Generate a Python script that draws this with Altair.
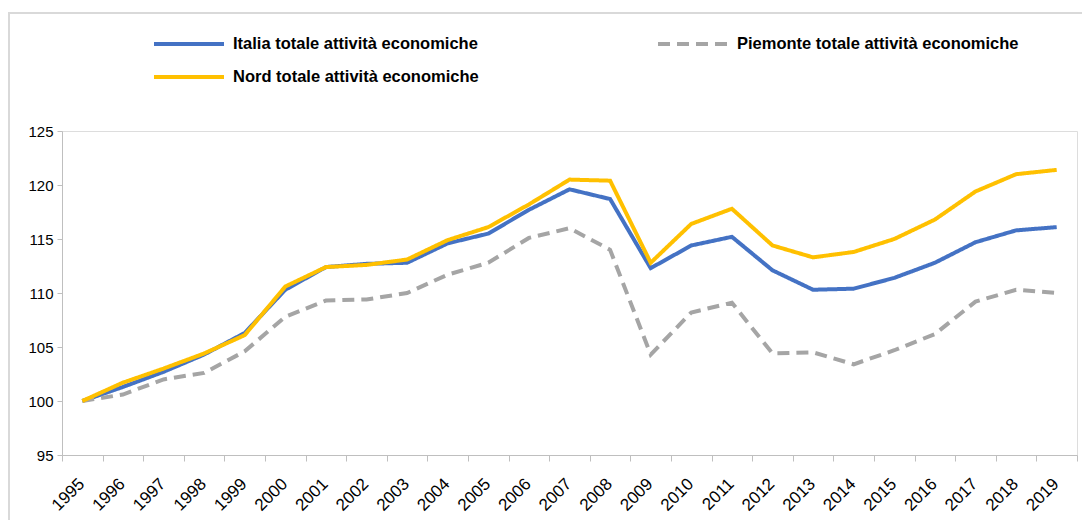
import altair as alt
import pandas as pd

years = [str(y) for y in range(1995, 2020)]
italia = [100.0, 101.3, 102.7, 104.3, 106.3, 110.3, 112.4, 112.7, 112.8, 114.6, 115.5, 117.7, 119.6,
          118.7, 112.3, 114.4, 115.2, 112.1, 110.3, 110.4, 111.4, 112.8, 114.7, 115.8, 116.1]
piemonte = [100.0, 100.6, 102.0, 102.6, 104.6, 107.8, 109.3, 109.4, 110.0, 111.7, 112.8, 115.1, 116.0,
            114.0, 104.3, 108.2, 109.1, 104.4, 104.5, 103.4, 104.7, 106.2, 109.2, 110.3, 110.0]
nord = [100.0, 101.7, 103.0, 104.4, 106.1, 110.6, 112.4, 112.6, 113.1, 114.9, 116.1, 118.2, 120.5,
        120.4, 112.8, 116.4, 117.8, 114.4, 113.3, 113.8, 115.0, 116.8, 119.4, 121.0, 121.4]

names = ["Italia totale attività economiche",
         "Piemonte totale attività economiche",
         "Nord totale attività economiche"]
# legend order (column-major: Italia, Nord in column 1; Piemonte in column 2)
legend_order = [names[0], names[2], names[1]]
color_map = {names[0]: "#4472C4", names[1]: "#A5A5A5", names[2]: "#FFC000"}
dash_map = {names[0]: [1, 0], names[1]: [12, 7], names[2]: [1, 0]}

rows = []
for i, (n, vals) in enumerate(zip(names, [italia, piemonte, nord])):
    for y, v in zip(years, vals):
        rows.append({"anno": y, "valore": v, "serie": n, "ord": i})
df = pd.DataFrame(rows)

FONT = "Liberation Sans Narrow, Arial Narrow, Liberation Sans, sans-serif"

frame = alt.Chart(pd.DataFrame({"a": [0]})).mark_rect(
    fill=None, stroke="#D9D9D9", strokeWidth=2
).encode(x=alt.value(-53), x2=alt.value(1200), y=alt.value(-118), y2=alt.value(800))

lines = alt.Chart(df).mark_line(strokeWidth=4).encode(
    x=alt.X("anno:O", bandPosition=0.5,
            scale=alt.Scale(type="band", paddingInner=0, paddingOuter=0),
            axis=alt.Axis(title=None, labelAngle=-45, labelAlign="right", labelBaseline="middle",
                          tickBand="extent", labelPadding=20, labelOffset=-1,
                          domainColor="#BFBFBF", tickColor="#BFBFBF", tickSize=6,
                          labelFontSize=17, labelColor="#000000", labelFont=FONT)),
    y=alt.Y("valore:Q", scale=alt.Scale(domain=[95, 125], nice=False, zero=False),
            axis=alt.Axis(title=None, values=[95, 100, 105, 110, 115, 120, 125], grid=False,
                          domainColor="#BFBFBF", tickColor="#BFBFBF", tickSize=5,
                          labelFontSize=15, labelColor="#000000", labelFont=FONT, labelPadding=4)),
    color=alt.Color("serie:N",
                    scale=alt.Scale(domain=legend_order, range=[color_map[n] for n in legend_order]),
                    legend=alt.Legend(title=None, orient="none", legendX=90, legendY=-97,
                                      direction="vertical",
                                      columns=2, columnPadding=177, rowPadding=13, clipHeight=20,
                                      symbolType="stroke", symbolSize=4900, symbolStrokeWidth=4,
                                      labelFontSize=16.5, labelFontWeight="bold", labelFont=FONT,
                                      labelColor="#000000", labelOffset=7, labelLimit=400)),
    strokeDash=alt.StrokeDash("serie:N",
                              scale=alt.Scale(domain=legend_order, range=[dash_map[n] for n in legend_order]),
                              legend=None),
    order="ord:Q",
)

chart = alt.layer(frame, lines).properties(
    width=1015, height=324,
    autosize=alt.AutoSizeParams(type="none"),
    padding={"left": 54, "top": 123, "right": 5, "bottom": 65},
).configure_view(stroke=None).configure(background="white")

chart.save("out.html", embed_options={"renderer": "svg", "actions": False})
